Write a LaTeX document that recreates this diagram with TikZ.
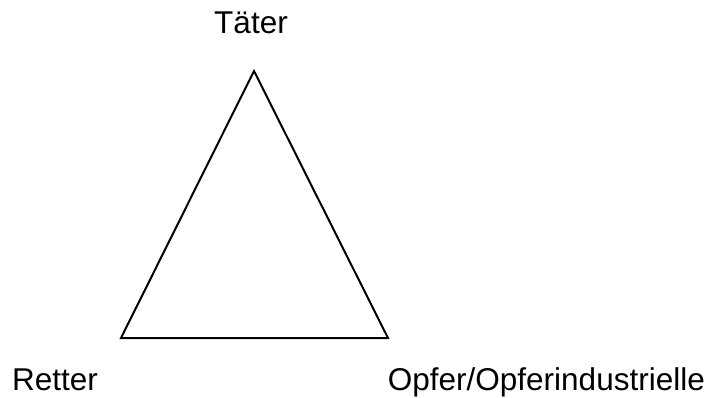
\documentclass[tikz,border=0pt]{standalone}
\usepackage{fontspec}
\setmainfont{Liberation Sans}
\begin{document}
\begin{tikzpicture}[x=1pt,y=1pt,
  lbl/.style={font=\fontsize{31.5}{36}\selectfont, inner sep=0pt},
  edge/.style={line width=2pt, line join=miter}]
\useasboundingbox (0,0) rectangle (709,397);
\coordinate (T) at (254,326);
\coordinate (R) at (121,59);
\coordinate (O) at (388,59);
\draw[edge] (T) -- (R) -- (O) -- cycle;
\node[lbl, anchor=base] (lt) at (251,363) {Täter};
\node[lbl, anchor=base west] (lr) at (12,7) {Retter};
\node[lbl, anchor=base east] (lo) at (705,7) {Opfer/Opferindustrielle};
\end{tikzpicture}
\end{document}
